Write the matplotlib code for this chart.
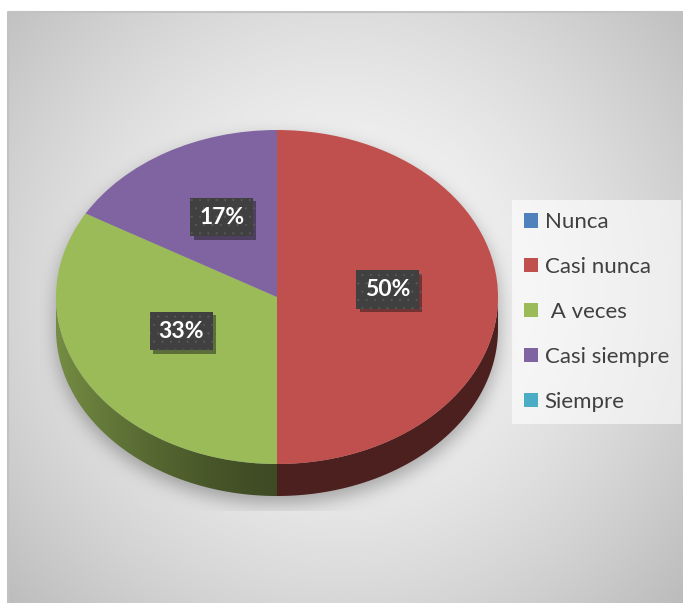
import numpy as np
import matplotlib
matplotlib.use("Agg")
import matplotlib.pyplot as plt
import matplotlib.patheffects as pe
from matplotlib.colors import to_rgb
from matplotlib.patches import Polygon

categorias = ["Nunca", "Casi nunca", " A veces", "Casi siempre", "Siempre"]
respuestas = [0, 3, 2, 1, 0]
colores = ["#4F81BD", "#C0504D", "#9BBB59", "#8064A2", "#4BACC6"]

W, H = 683, 603
# ellipse of the pie top in pixels, plus the height of the side wall
cx, cy, ra, rb, alto = 277, 297, 221, 167, 32
grosor = alto / rb

plt.rcParams["font.family"] = ["Lato", "DejaVu Sans"]
plt.rcParams["hatch.linewidth"] = 0.3
fig = plt.figure(figsize=(W / 100, H / 100), dpi=100)

# fondo: radial grey gradient with a soft drop shadow under the pie
yy, xx = np.mgrid[0:H, 0:W].astype(float)
dist = np.hypot(xx - 340, yy - 290) / 440
fondo = 250 - 58 * np.clip(dist, 0, 1.2) ** 1.5

cys = cy + 7
ex = ((xx - cx) / ra) ** 2
silueta = ((ex + ((yy - cys) / rb) ** 2 <= 1)
           | (ex + ((yy - cys - alto) / rb) ** 2 <= 1)
           | ((np.abs(xx - cx) <= ra) & (yy >= cys) & (yy <= cys + alto)))
silueta = silueta.astype(float)
k = np.exp(-0.5 * (np.arange(-30, 31) / 9.0) ** 2)
k /= k.sum()
sombra = np.apply_along_axis(lambda r: np.convolve(r, k, mode="same"), 1, silueta)
sombra = np.apply_along_axis(lambda c: np.convolve(c, k, mode="same"), 0, sombra)
sombra[(xx < 40) | (yy > 510)] = 0
fondo = fondo * (1 - 0.3 * sombra)
fondo[(xx < 8) | (yy < 12)] = 255
img = np.dstack([fondo] * 3) / 255

ax_bg = fig.add_axes([0, 0, 1, 1])
ax_bg.imshow(img, extent=(0, W, H, 0), interpolation="bilinear")
ax_bg.plot([8, 8, W], [H, 12, 12], color="#c2c2c2", lw=1.5)
ax_bg.set_xlim(0, W)
ax_bg.set_ylim(H, 0)
ax_bg.axis("off")

# pie axes: unit circle stretched onto the ellipse
xl, yl = (-1.2, 1.2), (-1.4, 1.2)
izq, der = cx + xl[0] * ra, cx + xl[1] * ra
arr, aba = cy - yl[1] * rb, cy - yl[0] * rb
ax = fig.add_axes([izq / W, 1 - aba / H, (der - izq) / W, (aba - arr) / H])

wedges, textos, pcts = ax.pie(
    respuestas, colors=colores, startangle=90, counterclock=False,
    autopct=lambda p: f"{p:.0f}%" if p > 0 else "", pctdistance=0.5,
    wedgeprops=dict(linewidth=0),
    textprops=dict(color="white", fontsize=16.5, fontweight="bold"))


def sombreado(x):
    # lighter towards the left edge, dark at the front and right
    return 0.4 + 0.35 * np.clip(-x, 0, 1) ** 1.4


# side wall for the front half of each wedge
for w, col in zip(wedges, colores):
    for s in (-360, 0, 360):
        a1, a2 = max(w.theta1 + s, -180), min(w.theta2 + s, 0)
        if a2 - a1 < 1e-6:
            continue
        t = np.radians(np.linspace(a1, a2, 120))
        sup = np.column_stack([np.cos(t), np.sin(t)])
        inf = np.column_stack([np.cos(t), np.sin(t) - grosor])[::-1]
        poly = Polygon(np.vstack([sup, inf]), closed=True, fc="none", ec="none")
        ax.add_patch(poly)
        xs = np.linspace(sup[:, 0].min(), sup[:, 0].max(), 200)
        grad = np.array(to_rgb(col))[None, :] * sombreado(xs)[:, None]
        im = ax.imshow(grad[None, :, :], extent=(xs[0], xs[-1], -1 - grosor, 0),
                       aspect="auto", interpolation="bilinear", zorder=0.5)
        im.set_clip_path(poly)

# percentage boxes sit a little above the wedge midpoints
for t in pcts:
    px, py = t.get_position()
    t.set_position((px, py + 0.045))
    t.set_bbox(dict(boxstyle="square,pad=0.38", fc="#404040", ec="#5a5a5a",
                    lw=0, hatch=".."))
    t.get_bbox_patch().set_path_effects(
        [pe.SimplePatchShadow(offset=(2.5, -2.5), alpha=0.45), pe.Normal()])

ax.set_xlim(xl)
ax.set_ylim(yl)
ax.set_aspect("auto")
ax.axis("off")

fig.legend(wedges, categorias, loc="upper left",
           bbox_to_anchor=(512 / W, 1 - 200 / H), borderaxespad=0,
           frameon=True, fancybox=False, facecolor="white", edgecolor="none",
           framealpha=0.6, fontsize=16, handlelength=0.62,
           handleheight=0.62, handletextpad=0.3, labelspacing=1.12,
           borderpad=0.55, labelcolor="#404040")

fig.savefig("out.png", dpi=100)
